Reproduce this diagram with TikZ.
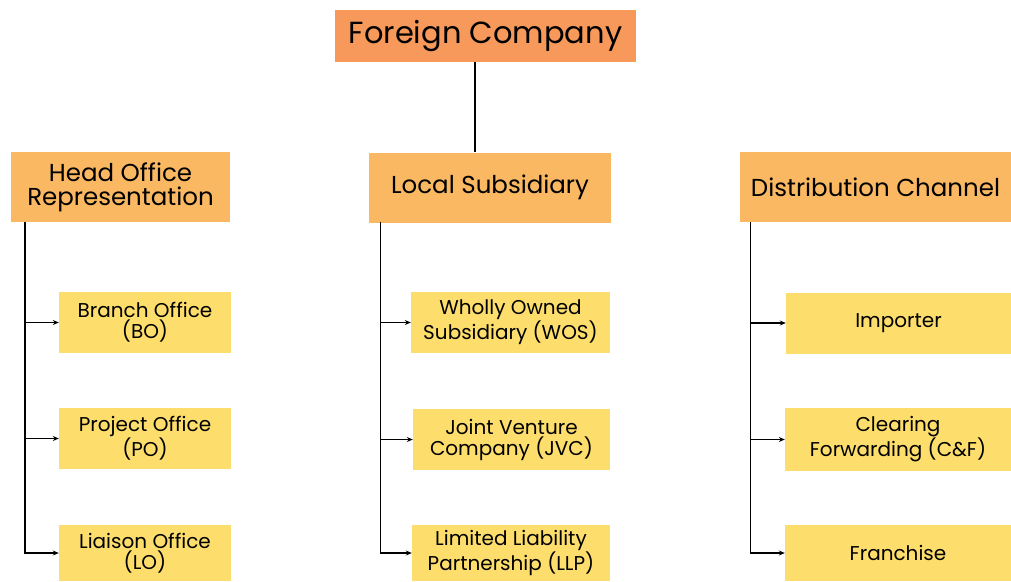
\documentclass[tikz,border=0pt]{standalone}
\usepackage{fontspec}
\setmainfont{Poppins}
\usetikzlibrary{positioning,arrows.meta}
\usepackage{xcolor}
\definecolor{topfill}{HTML}{F8995C}
\definecolor{midfill}{HTML}{FAB862}
\definecolor{leaffill}{HTML}{FDDE6C}

\begin{document}
\begin{tikzpicture}[
      x=1pt, y=-1pt,
      top/.style={rectangle, fill=topfill, text centered, inner sep=0pt, minimum width=301pt, minimum height=52pt, font=\fontsize{30.5}{32}\selectfont},
      group/.style={rectangle, fill=midfill, align=center, inner sep=0pt, minimum height=70pt, font=\fontsize{24.5}{24}\selectfont},
      leaf/.style={rectangle, fill=leaffill, align=center, inner sep=0pt, minimum height=61pt, font=\fontsize{20}{21}\selectfont},
      line/.style={draw, line width=1.9pt, -{Stealth[length=6pt, width=5pt]}},
      link/.style={draw, line width=1.9pt}
  ]
      \useasboundingbox (0,0) rectangle (1011,581);

      % Top level
      \node (company) [top] at (485.5,36) {Foreign Company};

      % Second level - three groups
      \node (head) [group, minimum width=219pt] at (120.5,187) {Head Office\\Representation};
      \node (local) [group, minimum width=242pt] at (490,187.5) {Local Subsidiary};
      \node (dist) [group, minimum width=271pt] at (875.5,187) {Distribution Channel};

      % Third level - head office column
      \node (bo) [leaf, minimum width=172pt] at (145,322.5) {Branch Office\\(BO)};
      \node (po) [leaf, minimum width=172pt] at (145,438.5) {Project Office\\(PO)};
      \node (lo) [leaf, minimum width=172pt, minimum height=56pt] at (145,553) {Liaison Office\\(LO)};

      % Third level - local subsidiary column
      \node (wos) [leaf, minimum width=199pt] at (510.5,322.5) {Wholly Owned\\Subsidiary (WOS)};
      \node (jvc) [leaf, minimum width=197pt] at (511.5,439.5) {Joint Venture\\Company (JVC)};
      \node (llp) [leaf, minimum width=198pt, minimum height=56pt] at (511,553) {Limited Liability\\Partnership (LLP)};

      % Third level - distribution column
      \node (imp) [leaf, minimum width=225pt] at (898.5,323) {Importer};
      \node (cf) [leaf, minimum width=226pt, minimum height=63pt] at (898,439.5) {Clearing\\Forwarding (C\&F)};
      \node (fra) [leaf, minimum width=226pt, minimum height=56pt] at (898,553) {Franchise};

      % Trunk start points
      \coordinate (drop) at (475,62);
      \coordinate (headtrunk) at (25,222);
      \coordinate (localtrunk) at (380.5,222);
      \coordinate (disttrunk) at (750.5,222);

      % Connections
      \path [link] (drop) -- (drop |- local.north);
      \path [line] (headtrunk) |- (bo.west);
      \path [line] (headtrunk) |- (po.west);
      \path [line] (headtrunk) |- (lo.west);
      \path [line] (localtrunk) |- (wos.west);
      \path [line] (localtrunk) |- (jvc.west);
      \path [line] (localtrunk) |- (llp.west);
      \path [line] (disttrunk) |- (imp.west);
      \path [line] (disttrunk) |- (cf.west);
      \path [line] (disttrunk) |- (fra.west);
  \end{tikzpicture}
\end{document}
